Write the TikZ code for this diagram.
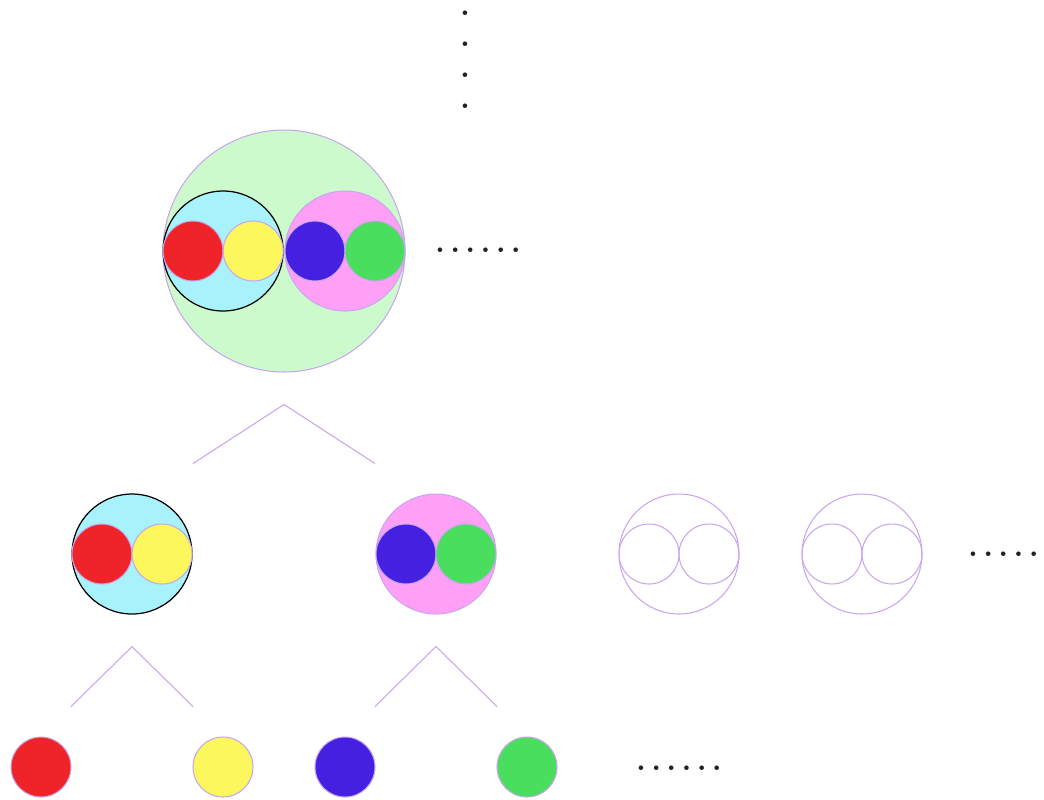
\documentclass[tikz,border=0pt]{standalone}
\usetikzlibrary{positioning}
\definecolor{lila}{HTML}{C8A6EE}
\definecolor{verdec}{HTML}{CCFACC}
\definecolor{cian}{HTML}{A8F2FC}
\definecolor{rosa}{HTML}{FFA0F6}
\definecolor{rojo}{HTML}{EE2428}
\definecolor{amarillo}{HTML}{FBF75C}
\definecolor{azul}{HTML}{4620E0}
\definecolor{verde}{HTML}{4ADE5E}
\definecolor{tinta}{HTML}{222222}
\begin{document}
\begin{tikzpicture}[x=0.02cm,y=-0.02cm,
  bola/.style={circle,draw=lila,line width=0.6pt,inner sep=0pt,minimum size=1.2cm},
  pareja/.style={circle,draw=lila,line width=0.6pt,inner sep=0pt,minimum size=2.4cm},
  grande/.style={circle,draw=lila,line width=0.6pt,inner sep=0pt,minimum size=4.84cm},
  rama/.style={lila,line width=0.6pt},
  puntos/.style={text=tinta,inner sep=0pt,font=\fontsize{18}{17.6}\selectfont\bfseries}]
  \useasboundingbox (0,0) rectangle (1044,799);
  % nivel superior
  \node[puntos,align=center] (arriba) at (465,60) {.\\.\\.\\.};
  \node[grande,fill=verdec] (g) at (284,251) {};
  \node[pareja,fill=cian,draw=black,line width=0.7pt,anchor=west] (gi) at (g.west) {};
  \node[pareja,fill=rosa,anchor=east] (gd) at (g.east) {};
  \node[bola,fill=rojo,anchor=west] (g1) at (gi.west) {};
  \node[bola,fill=amarillo,anchor=east] (g2) at (gi.east) {};
  \node[bola,fill=azul,anchor=west] (g3) at (gd.west) {};
  \node[bola,fill=verde,anchor=east] (g4) at (gd.east) {};
  \node[puntos] (pg) at (478,250) {.\,.\,.\,.\,.\,.};
  % ramas del nivel superior
  \coordinate[below=0.64cm of g] (vg);
  \coordinate[below left=1.18cm and 1.82cm of vg] (vga);
  \coordinate[below right=1.18cm and 1.82cm of vg] (vgb);
  \draw[rama] (vga) -- (vg) -- (vgb);
  % nivel medio
  \node[pareja,fill=cian,draw=black,line width=0.7pt] (c1) at (132,554) {};
  \node[bola,fill=rojo,anchor=west] (c1a) at (c1.west) {};
  \node[bola,fill=amarillo,anchor=east] (c1b) at (c1.east) {};
  \node[pareja,fill=rosa] (c2) at (436,554) {};
  \node[bola,fill=azul,anchor=west] (c2a) at (c2.west) {};
  \node[bola,fill=verde,anchor=east] (c2b) at (c2.east) {};
  \foreach \n/\x in {c3/679,c4/862}{
    \node[pareja] (\n) at (\x,554) {};
    \node[bola,anchor=west] (\n a) at (\n.west) {};
    \node[bola,anchor=east] (\n b) at (\n.east) {};
  }
  \node[puntos] (pm) at (1011,554) {.\,.\,.\,.\,.\,.};
  % ramas del nivel medio
  \foreach \n in {c1,c2}{
    \coordinate[below=0.64cm of \n] (v\n);
    \coordinate[below left=1.2cm and 1.22cm of v\n] (v\n a);
    \coordinate[below right=1.2cm and 1.22cm of v\n] (v\n b);
    \draw[rama] (v\n a) -- (v\n) -- (v\n b);
  }
  % hojas
  \node[bola,fill=rojo] (h1) at (41,767) {};
  \node[bola,fill=amarillo] (h2) at (223,767) {};
  \node[bola,fill=azul] (h3) at (345,767) {};
  \node[bola,fill=verde] (h4) at (527,767) {};
  \node[puntos] (ph) at (679,768) {.\,.\,.\,.\,.\,.};
\end{tikzpicture}
\end{document}
